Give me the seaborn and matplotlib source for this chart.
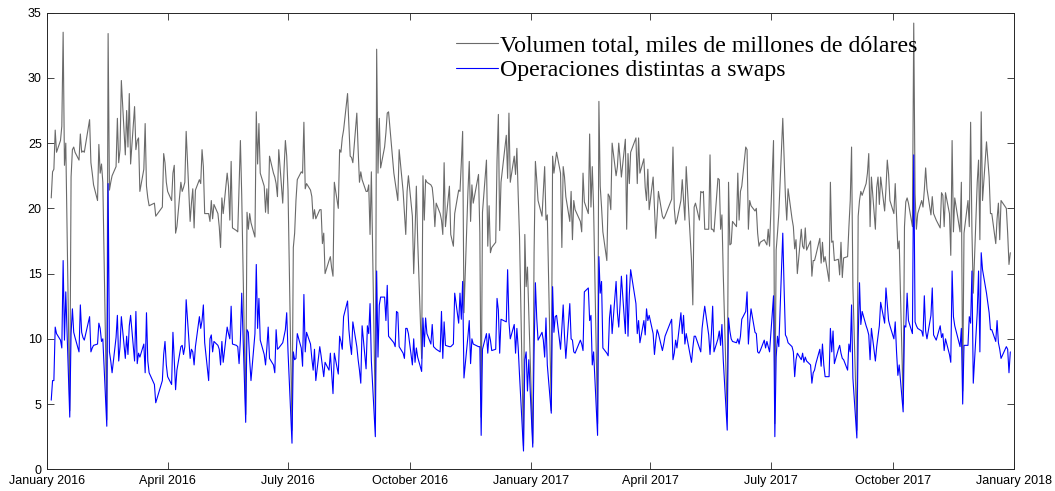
import pandas as pd
import matplotlib
matplotlib.use("Agg")
import matplotlib.pyplot as plt
import seaborn as sns

# Volumen diario del mercado cambiario (miles de millones de dólares), leido del grafico
# segmentos aproximadamente bimestrales, dias habiles de Mexico
total_s1 = [20.8, 22.8, 23.0, 26.0, 24.3, 25.2, 26.3, 33.5, 23.3, 25.0, 4.5, 22.4, 24.5, 24.7, 24.3, 23.7, 25.7, 24.3, 24.4, 24.3,
            26.8, 23.5, 22.7, 21.8, 20.6, 24.9, 22.7, 23.4, 22.0, 3.8, 33.4, 21.4, 22.0, 22.5, 23.2, 26.9, 23.5, 24.5, 29.8]
total_s2 = [24.1, 27.5, 24.7, 28.8, 23.4, 27.8, 24.5, 25.2, 25.4, 21.3, 23.0, 26.5, 21.7, 20.8, 20.2, 20.4, 19.4, 20.1, 24.2, 23.5,
            22.0, 21.3, 20.6, 22.7, 23.3, 18.1, 18.6, 22.0, 21.3, 21.6, 22.0, 25.9, 19.0, 20.4, 21.5, 18.5, 21.4, 22.2, 21.9, 24.5,
            23.2, 19.6, 19.6]
total_s3 = [19.0, 20.6, 19.2, 20.3, 19.6, 18.6, 17.0, 20.8, 19.6, 22.7, 21.7, 19.1, 23.6, 18.5, 18.3, 18.2, 21.7, 25.2, 21.0, 4.2,
            19.7, 18.4, 19.6, 18.9, 17.8, 27.4, 23.4, 26.5, 22.7, 21.7, 19.7, 21.5, 19.6, 24.0, 22.7, 22.4, 21.9, 20.9, 24.5, 20.4,
            23.0, 25.2, 24.0, 21.4]
total_s4 = [3.0, 17.0, 18.1, 20.6, 22.2, 22.8, 22.7, 26.6, 21.5, 21.9, 21.4, 20.9, 19.2, 19.9, 19.2, 19.9, 19.9, 17.3, 18.1, 15.0,
            16.0, 16.3, 15.4, 14.8, 22.0, 20.0, 24.5, 24.3, 25.4, 26.0, 28.8, 26.3, 24.0, 23.9, 23.5, 27.3, 24.5, 22.0, 22.8, 22.2,
            21.3, 21.3, 21.8, 18.0, 22.8]
total_s5 = [4.0, 32.2, 22.7, 26.9, 23.1, 24.7, 25.8, 27.3, 27.4, 22.7, 22.0, 21.3, 20.6, 24.5, 21.3, 19.7, 18.0, 21.3, 22.5, 19.4,
            15.0, 18.1, 21.7, 17.6, 8.5, 22.5, 19.1, 22.2, 22.0, 21.8, 21.6, 20.6, 18.6, 20.4, 19.6, 19.1, 18.0, 23.5, 18.6, 21.7,
            18.0, 17.1, 19.6, 21.4]
total_s6 = [21.3, 23.5, 25.9, 12.0, 21.3, 23.6, 19.0, 21.8, 20.4, 22.6, 18.1, 4.0, 19.7, 23.7, 17.1, 20.2, 16.6, 17.0, 17.4, 23.7,
            27.2, 18.3, 22.0, 25.6, 22.3, 27.3, 22.0, 24.0, 22.6, 24.6, 21.0, 17.8, 1.8, 18.0, 14.0, 15.5, 12.0, 2.0, 16.6, 23.6]
total_s7 = [22.2, 20.6, 19.4, 21.3, 23.2, 19.1, 19.5, 4.5, 24.0, 22.7, 23.5, 24.3, 22.7, 17.0, 23.2, 22.4, 20.9, 19.0, 21.3, 17.6,
            20.6, 19.9, 19.0, 18.2, 22.7, 20.5, 19.6, 25.7, 20.1, 23.2, 20.0, 3.5, 28.2, 21.7, 20.1, 18.2, 16.0, 21.1, 20.9, 19.9,
            25.0, 22.5]
total_s8 = [23.2, 25.0, 23.8, 22.4, 25.3, 18.4, 24.2, 21.9, 24.3, 25.4, 21.9, 25.4, 22.7, 23.8, 21.6, 20.6, 23.0, 19.9, 22.4, 20.1,
            17.7, 19.4, 21.3, 19.4, 19.2, 19.4, 20.7, 24.7, 20.0, 18.8, 19.1, 20.6, 22.2, 20.6, 19.1, 23.2, 16.0, 12.6, 20.1]
total_s9 = [20.4, 19.1, 21.3, 21.2, 21.3, 18.4, 18.4, 24.1, 18.4, 18.4, 18.2, 22.3, 22.2, 18.4, 19.5, 15.0, 4.0, 22.0, 17.2, 17.3,
            19.0, 18.6, 22.7, 19.1, 21.3, 21.7, 24.7, 24.5, 18.4, 20.6, 20.2, 19.8, 20.0, 18.1, 17.1, 17.4, 17.6, 17.4, 17.2, 18.4,
            17.1, 25.2, 3.5, 16.8]
total_s10 = [18.1, 19.6, 26.9, 23.9, 20.9, 19.1, 21.5, 19.2, 18.6, 16.9, 17.6, 15.0, 18.4, 17.1, 16.9, 18.5, 16.8, 17.5, 14.8, 16.0,
             16.0, 16.4, 17.7, 15.8, 17.4, 15.9, 16.3, 14.4, 22.0, 17.4, 17.5, 16.0, 16.1, 14.9, 17.4, 14.7, 16.2, 16.3, 18.6, 20.6,
             24.7, 14.0, 3.0]
total_s11 = [19.4, 20.6, 21.3, 21.0, 21.9, 22.7, 24.2, 18.6, 22.4, 18.4, 21.6, 22.4, 20.3, 22.4, 19.8, 21.5, 23.7, 22.6, 20.6, 19.6,
             21.9, 19.5, 16.9, 17.5, 5.0, 18.6, 20.5, 20.8, 20.4, 18.6, 34.2, 21.1, 18.4, 19.6, 20.6, 20.1, 21.4, 23.1, 21.5, 19.5,
             20.9, 19.6]
total_s12 = [19.1, 18.5, 21.2, 21.0, 18.6, 21.2, 19.6, 16.4, 25.2, 18.2, 20.8, 18.2, 22.0, 6.0,
             18.1, 20.6, 18.6, 26.6, 18.2, 13.5, 22.0, 23.7, 17.6, 27.4, 20.6, 25.1, 22.4, 19.6, 19.6, 17.3, 19.2, 20.4, 17.6, 20.6,
             20.0, 18.1, 15.7, 16.6]

sin_swaps_s1 = [5.3, 6.8, 6.8, 10.9, 10.4, 9.9, 9.3, 16.0, 9.9, 13.6, 4.0, 10.4, 12.3, 10.5, 10.1, 9.0, 12.6, 10.5, 10.1, 9.9,
                11.7, 9.0, 9.3, 9.5, 9.6, 11.2, 10.8, 9.8, 10.0, 3.3, 21.9, 9.0, 8.3, 7.4, 10.1, 11.8, 8.3, 9.4, 11.7]
sin_swaps_s2 = [8.5, 10.2, 8.8, 11.0, 11.8, 8.3, 12.1, 8.1, 8.9, 8.6, 9.6, 7.4, 12.0, 8.3, 7.4, 6.5, 5.1, 6.8, 8.8, 9.8,
                8.0, 7.1, 6.5, 10.5, 8.4, 6.1, 7.6, 9.4, 9.5, 8.8, 9.4, 13.0, 8.5, 9.2, 9.0, 8.0, 9.4, 11.7, 10.8, 11.4,
                12.6, 9.7, 6.8]
sin_swaps_s3 = [10.0, 10.3, 9.0, 9.8, 9.5, 9.2, 8.0, 9.8, 8.2, 10.9, 10.4, 10.0, 12.5, 9.6, 9.5, 9.4, 8.1, 9.9, 13.5, 3.6,
                10.7, 10.5, 8.4, 6.8, 10.4, 15.7, 10.8, 13.1, 9.9, 8.8, 8.0, 9.3, 10.9, 8.5, 8.0, 7.4, 10.7, 9.2, 9.3, 9.7,
                10.2, 10.7, 12.0, 9.0]
sin_swaps_s4 = [2.0, 9.0, 8.4, 8.5, 10.4, 9.3, 7.9, 13.4, 9.0, 10.5, 9.6, 8.5, 7.6, 9.2, 6.8, 9.4, 8.7, 7.9, 7.1, 8.2,
                7.6, 8.9, 7.4, 5.8, 8.9, 7.3, 10.2, 9.8, 9.2, 11.7, 12.9, 10.7, 9.6, 8.8, 11.3, 9.4, 8.4, 7.6, 6.6, 11.0,
                7.7, 11.0, 10.4, 12.7, 8.3]
sin_swaps_s5 = [2.5, 15.2, 8.6, 12.6, 13.2, 13.2, 11.4, 14.1, 10.2, 9.7, 9.4, 12.1, 12.0, 9.4, 8.9, 8.5, 10.8, 10.8, 10.4, 8.0,
                10.0, 8.2, 9.3, 8.6, 7.5, 11.6, 9.4, 11.6, 10.4, 9.6, 11.1, 9.4, 9.3, 9.2, 9.0, 12.1, 8.5, 11.3, 9.5, 9.4,
                9.4, 9.6, 13.5, 11.2]
sin_swaps_s6 = [13.5, 11.5, 14.4, 7.0, 10.2, 11.4, 8.1, 10.0, 9.6, 9.4, 9.4, 2.6, 9.2, 10.4, 8.9, 10.4, 9.9, 9.1, 9.2, 13.1,
                12.2, 8.9, 11.5, 11.3, 15.3, 11.3, 10.0, 11.1, 8.9, 10.8, 9.3, 7.2, 1.4, 8.4, 9.0, 6.0, 8.4, 1.7, 9.0, 14.3]
sin_swaps_s7 = [11.6, 9.9, 10.5, 9.9, 8.6, 11.6, 8.0, 4.3, 14.0, 10.5, 11.7, 11.8, 9.2, 10.8, 12.6, 10.2, 8.5, 12.7, 10.0, 9.9,
                9.0, 8.9, 9.9, 9.6, 9.1, 13.6, 13.9, 11.4, 11.8, 8.0, 9.0, 2.6, 16.3, 13.5, 14.4, 9.3, 8.9, 8.7, 11.6, 12.6,
                10.4, 14.4]
sin_swaps_s8 = [12.0, 10.9, 12.6, 14.8, 10.4, 14.9, 10.2, 13.4, 15.3, 12.7, 10.4, 11.4, 9.7, 11.4, 10.3, 12.3, 11.4, 11.8, 10.4, 8.8,
                9.9, 10.7, 10.4, 9.1, 9.6, 10.2, 11.5, 8.4, 8.9, 9.9, 9.3, 12.0, 10.4, 11.8, 9.6, 10.4, 8.2, 9.3, 10.2]
sin_swaps_s9 = [10.2, 9.3, 9.0, 10.8, 11.7, 12.5, 10.3, 8.8, 10.3, 12.5, 9.0, 10.0, 10.6, 9.5, 11.1, 8.4, 3.0, 11.6, 10.6, 10.0,
                9.8, 9.7, 10.0, 9.6, 10.2, 11.5, 12.1, 13.6, 9.6, 11.2, 12.3, 10.5, 10.4, 9.0, 8.9, 9.1, 9.9, 9.3, 9.8, 9.4,
                9.0, 13.3, 2.5, 8.6]
sin_swaps_s10 = [10.2, 9.4, 18.1, 13.9, 10.3, 10.1, 9.7, 9.4, 9.0, 7.1, 8.4, 8.9, 8.4, 8.9, 8.2, 8.6, 8.3, 8.0, 6.6, 7.4,
                 7.6, 8.1, 9.2, 7.9, 9.6, 8.0, 7.1, 7.1, 10.8, 9.0, 10.6, 8.1, 9.2, 9.5, 8.9, 8.5, 8.4, 7.6, 9.6, 9.0,
                 12.6, 7.0, 2.4]
sin_swaps_s11 = [10.0, 14.3, 11.1, 12.1, 11.0, 10.7, 10.3, 8.4, 10.8, 8.3, 9.4, 10.2, 11.0, 12.8, 11.2, 13.9, 12.6, 11.4, 11.0, 10.0,
                 11.3, 9.0, 7.2, 8.0, 4.4, 11.0, 10.9, 13.5, 11.4, 10.4, 24.1, 11.3, 11.0, 10.8, 10.6, 10.2, 13.3, 10.6, 10.0, 11.8,
                 13.9, 10.3]
sin_swaps_s12 = [9.9, 11.0, 10.1, 10.4, 9.1, 10.0, 8.8, 8.2, 15.2, 11.7, 11.0, 9.4, 10.8, 5.0,
                 9.5, 9.5, 11.7, 11.2, 15.2, 6.6, 12.0, 15.2, 9.0, 16.6, 15.3, 13.5, 12.0, 10.7, 10.7, 9.8, 11.4, 9.7, 9.2, 8.5,
                 9.4, 9.2, 7.4, 9.0]

# dias inhabiles bancarios en Mexico (no hay dato)
feriados_mx = ["2016-02-01", "2016-03-21", "2016-03-24", "2016-03-25", "2016-09-16", "2016-11-02", "2016-11-21",
               "2016-12-12", "2017-02-06", "2017-03-20", "2017-04-13", "2017-04-14", "2017-05-01", "2017-11-02",
               "2017-11-20", "2017-12-12", "2017-12-25"]

ticks_x = ["2016-01-01", "2016-04-01", "2016-07-01", "2016-10-01", "2017-01-01",
           "2017-04-01", "2017-07-01", "2017-10-01", "2018-01-01"]
etiquetas_x = ["January 2016", "April 2016", "July 2016", "October 2016", "January 2017",
               "April 2017", "July 2017", "October 2017", "January 2018"]
ticks_y = [0, 5, 10, 15, 20, 25, 30, 35]

nombre_total = "Volumen total, miles de millones de dólares"
nombre_sin_swaps = "Operaciones distintas a swaps"

total = (total_s1 + total_s2 + total_s3 + total_s4 + total_s5 + total_s6 +
         total_s7 + total_s8 + total_s9 + total_s10 + total_s11 + total_s12)
sin_swaps = (sin_swaps_s1 + sin_swaps_s2 + sin_swaps_s3 + sin_swaps_s4 + sin_swaps_s5 + sin_swaps_s6 +
             sin_swaps_s7 + sin_swaps_s8 + sin_swaps_s9 + sin_swaps_s10 + sin_swaps_s11 + sin_swaps_s12)
assert len(total) == len(sin_swaps), (len(total), len(sin_swaps))

dias_mx = pd.offsets.CustomBusinessDay(holidays=feriados_mx)
fechas = pd.date_range("2016-01-04", periods=len(total), freq=dias_mx)
df = pd.DataFrame({"fecha": fechas, "total": total, "sin_swaps": sin_swaps})

sns.set_theme(style="ticks")
plt.rcParams["font.family"] = ["Liberation Sans", "DejaVu Sans"]

fig = plt.figure(figsize=(10.55, 4.91), dpi=100)
ax = fig.add_axes([0.0448, 0.0442, 0.9166, 0.930])

sns.lineplot(data=df, x="fecha", y="total", color="#6a6a6a", linewidth=0.8, ax=ax, label=nombre_total)
sns.lineplot(data=df, x="fecha", y="sin_swaps", color="#0000ff", linewidth=0.8, ax=ax, label=nombre_sin_swaps)

ax.set_xlim(pd.Timestamp(ticks_x[0]), pd.Timestamp(ticks_x[-1]))
ax.set_ylim(0, 35)
ax.set_xticks(pd.to_datetime(ticks_x))
ax.set_xticklabels(etiquetas_x)
ax.set_yticks(ticks_y)
ax.set_xlabel("")
ax.set_ylabel("")
ax.tick_params(direction="in", top=True, right=True, length=5, width=0.6,
               labelsize=9, colors="#262626", labelcolor="black", pad=4)
for s in ax.spines.values():
    s.set_visible(True)
    s.set_linewidth(0.7)
    s.set_color("#262626")

leg = ax.legend(loc="upper left", bbox_to_anchor=(456 / 1055, 1 - 35 / 491), bbox_transform=fig.transFigure,
                frameon=False, borderpad=0, borderaxespad=0, handlelength=1.75, handletextpad=0.08,
                labelspacing=0.12, prop={"family": ["Liberation Serif", "DejaVu Serif"], "size": 17.2})
for t in leg.get_texts():
    t.set_color("black")

fig.savefig("out.png", dpi=100)
